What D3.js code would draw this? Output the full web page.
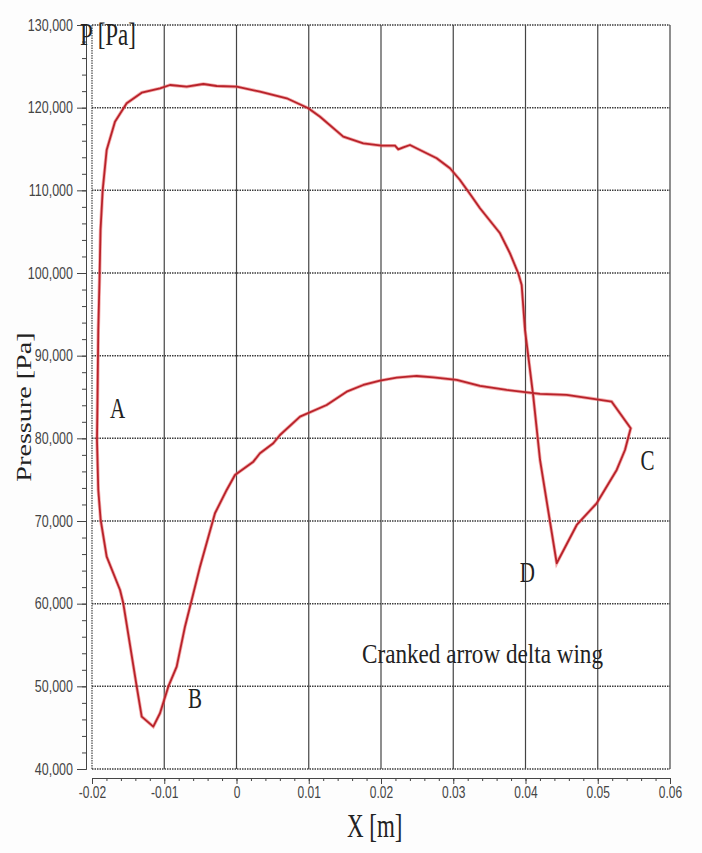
<!DOCTYPE html>
<html>

<head>
    <script src="https://d3js.org/d3.v7.min.js"></script>
    <script>
        // loop traced clockwise, starting at the left side near A
        const xs = [
            -0.01880, -0.01913, -0.01931, -0.01924, -0.01913, -0.01896, -0.01882, -0.01852, -0.01797, -0.01682,
            -0.01520, -0.01312, -0.01059, -0.00920, -0.00689, -0.00459, -0.00274, 0.00003, 0.00325, 0.00695,
            0.00994, 0.01156, 0.01478, 0.01755, 0.02010, 0.02194, 0.02239, 0.02309, 0.02401, 0.02540,
            0.02771, 0.02955, 0.03093, 0.03232, 0.03370, 0.03647, 0.03785, 0.03900, 0.03947, 0.03993,
            0.04062, 0.04108, 0.04201, 0.04432, 0.04709, 0.04985, 0.05262, 0.05377, 0.05456, 0.05193,
            0.04985, 0.04570, 0.04201, 0.03739, 0.03370, 0.03048, 0.02724, 0.02494, 0.02217, 0.01986,
            0.01755, 0.01525, 0.01248, 0.00879, 0.00602, 0.00509, 0.00325, 0.00233, -0.00021, -0.00136,
            -0.00298, -0.00505, -0.00620, -0.00713, -0.00828, -0.00944, -0.01059, -0.01152, -0.01312, -0.01381,
            -0.01567, -0.01612, -0.01797
        ]
        const pressures = [
            70125, 73754, 79802, 84640, 93107, 99155, 105203, 110042, 114880, 118303,
            120529, 121811, 122343, 122742, 122537, 122863, 122621, 122537, 121932, 121134,
            119924, 118908, 116489, 115690, 115400, 115400, 114965, 115206, 115485, 114880,
            113876, 112667, 111251, 109558, 107828, 104804, 102385, 99966, 98550, 93107,
            88269, 85039, 77382, 64887, 69520, 72145, 76173, 78592, 81217, 84435,
            84725, 85245, 85366, 85850, 86333, 87059, 87386, 87543, 87338, 86975,
            86454, 85644, 84035, 82620, 80406, 79402, 78193, 77177, 75568, 73754,
            70935, 64477, 60448, 57219, 52380, 49961, 46744, 45123, 46333, 49961,
            60048, 61658, 65686
        ]
        const xTicks = [-0.02, -0.01, 0, 0.01, 0.02, 0.03, 0.04, 0.05, 0.06]
        const xTickLabels = ["-0.02", "-0.01", "0", "0.01", "0.02", "0.03", "0.04", "0.05", "0.06"]
        const yTicks = [40000, 50000, 60000, 70000, 80000, 90000, 100000, 110000, 120000, 130000]
        const yTickLabels = ["40,000", "50,000", "60,000", "70,000", "80,000", "90,000", "100,000", "110,000", "120,000", "130,000"]
        const pointLabels = [
            { name: "A", x: -0.0175, p: 82500 },
            { name: "B", x: -0.0067, p: 47400 },
            { name: "C", x: 0.0559, p: 76200 },
            { name: "D", x: 0.0392, p: 62600 }
        ]

        const serif = "'Liberation Serif', 'Times New Roman', serif"
        const sans = "'Liberation Sans', Arial, sans-serif"
        let svg

        function doSVG() {
            svg = d3.select("#svgContainer")

            const x = d3.scaleLinear().domain([-0.02, 0.06]).range([92, 670])
            const y = d3.scaleLinear().domain([40000, 130000]).range([769, 25])

            svg.append("rect").attr("width", 702).attr("height", 853).attr("fill", "#fdfdfd")
            svg.append("rect").attr("x", 92).attr("y", 25).attr("width", 578).attr("height", 744).attr("fill", "#fff")

            // grid
            svg.append("g").selectAll("line").data(yTicks).join("line")
                .attr("x1", 92).attr("x2", 670)
                .attr("y1", d => y(d)).attr("y2", d => y(d))
                .attr("stroke", "#3c3c3c").attr("stroke-width", 1.5).attr("stroke-dasharray", "1.5,1")
            svg.append("g").selectAll("line").data(xTicks).join("line")
                .attr("x1", d => x(d)).attr("x2", d => x(d))
                .attr("y1", 25).attr("y2", 769)
                .attr("stroke", "#444").attr("stroke-width", 1.2)
                .attr("stroke-dasharray", (d, i) => i == 0 ? "1.5,1" : null)

            // axes, set off a little from the plot box
            const minorX = d3.range(-0.02, 0.0601, 0.002)
            const minorY = d3.range(40000, 130001, 2000)
            svg.append("g").attr("transform", "translate(0,778)")
                .call(d3.axisBottom(x).tickValues(minorX).tickSize(3).tickFormat(""))
                .call(g => g.selectAll("line,path").attr("stroke", "#444"))
            const xAxis = svg.append("g").attr("transform", "translate(0,778)")
                .call(d3.axisBottom(x).tickValues(xTicks).tickSize(6).tickSizeOuter(0)
                    .tickFormat((d, i) => xTickLabels[i]))
            xAxis.selectAll("line,path").attr("stroke", "#444")
            xAxis.selectAll("text")
                .attr("y", 0).attr("dy", null)
                .attr("transform", "translate(0,20) scale(1,1.35)")
                .attr("fill", "#444").attr("font-family", sans).attr("font-size", 12)

            svg.append("g").attr("transform", "translate(86,0)")
                .call(d3.axisLeft(y).tickValues(minorY).tickSize(4).tickFormat(""))
                .call(g => g.selectAll("line,path").attr("stroke", "#444"))
            const yAxis = svg.append("g").attr("transform", "translate(86,0)")
                .call(d3.axisLeft(y).tickValues(yTicks).tickSize(9).tickSizeOuter(0)
                    .tickFormat((d, i) => yTickLabels[i]))
            yAxis.selectAll("line,path").attr("stroke", "#444")
            yAxis.selectAll("text")
                .attr("x", 0).attr("dy", null)
                .attr("transform", "translate(-13,5) scale(1,1.35)")
                .attr("fill", "#444").attr("font-family", sans).attr("font-size", 12.5)

            // the pressure loop
            const pts = xs.map((v, i) => [v, pressures[i]])
            const line = d3.line().x(d => x(d[0])).y(d => y(d[1])).curve(d3.curveLinearClosed)
            svg.append("path").attr("d", line(pts))
                .attr("fill", "none").attr("stroke", "#e85858").attr("stroke-width", 3.4).attr("opacity", 0.5)
            svg.append("path").attr("d", line(pts))
                .attr("fill", "none").attr("stroke", "#b8222a").attr("stroke-width", 1.8)
                .attr("stroke-linejoin", "round")

            // text
            const addText = (str, tx, ty, size, tf, extra) => {
                const t = svg.append("text")
                    .attr("transform", `translate(${tx},${ty}) ${tf}`)
                    .attr("font-family", serif).attr("font-size", size).attr("fill", "#222")
                    .text(str)
                if (extra) extra(t)
                return t
            }
            addText("P [Pa]", 80, 45, 23, "scale(1,1.33)")
            addText("X [m]", 347, 837, 23, "scale(1,1.45)")
            addText("Pressure [Pa]", 31, 407, 22, "rotate(-90) scale(1.28,1)", t => t.attr("text-anchor", "middle"))
            addText("Cranked arrow delta wing", 362, 663, 21, "scale(1,1.3)",
                t => t.attr("textLength", 241).attr("lengthAdjust", "spacingAndGlyphs"))

            svg.append("g").selectAll("text").data(pointLabels).join("text")
                .attr("transform", d => `translate(${x(d.x)},${y(d.p)}) scale(1,1.45)`)
                .attr("font-family", serif).attr("font-size", 21).attr("fill", "#222")
                .text(d => d.name)
        }
    </script>
</head>

<body onload="doSVG()" style="margin:0">
    <svg id="svgContainer" width="702" height="853">
    </svg>
</body>

</html>
